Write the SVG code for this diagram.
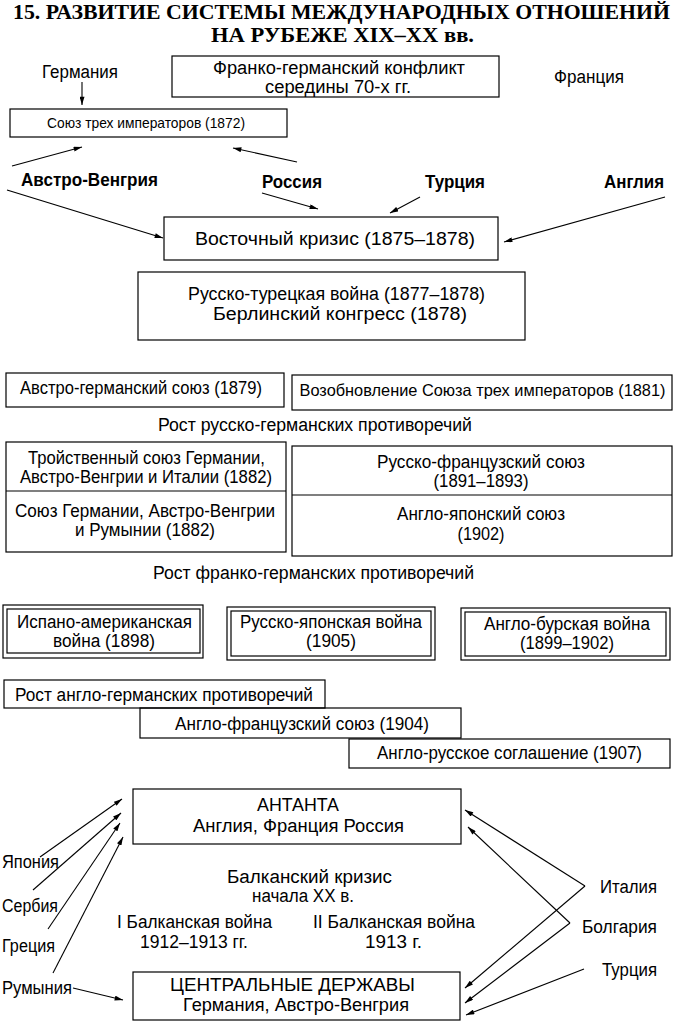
<svg xmlns="http://www.w3.org/2000/svg" width="677" height="1024" viewBox="0 0 677 1024">
<defs>
<marker id="ah" viewBox="0 0 10 6" refX="10" refY="3" markerWidth="9" markerHeight="5" markerUnits="userSpaceOnUse" orient="auto">
<path d="M0,0 L10,3 L0,6 Z" fill="#000"/>
</marker>
<style>
.t{font-family:"Liberation Sans",Arial,sans-serif;font-size:18px;fill:#000;text-anchor:middle}
.s{font-size:15px}
.m{font-size:16.5px}
.b{font-weight:bold}
.l{text-anchor:start}
.ttl{font-family:"Liberation Serif","Times New Roman",serif;font-weight:bold;font-size:22px;fill:#000}
.box{fill:none;stroke:#000;stroke-width:1.2}
.c line{stroke:#000;stroke-width:1.1;marker-end:url(#ah)}
</style>
</defs>
<rect width="677" height="1024" fill="#fff"/>

<g id="title">
<text class="ttl" x="13" y="19" textLength="657" lengthAdjust="spacingAndGlyphs">15. РАЗВИТИЕ СИСТЕМЫ МЕЖДУНАРОДНЫХ ОТНОШЕНИЙ</text>
<text class="ttl" x="211" y="42" textLength="263" lengthAdjust="spacingAndGlyphs">НА РУБЕЖЕ XIX–XX вв.</text>
</g>

<g id="germany1"><text class="t" x="80" y="78" textLength="76" lengthAdjust="spacingAndGlyphs">Германия</text></g>
<g id="franco-german">
<rect class="box" x="172" y="56" width="327" height="41"/>
<text class="t" x="339" y="74" textLength="252" lengthAdjust="spacingAndGlyphs">Франко-германский конфликт</text>
<text class="t" x="338" y="93" textLength="146" lengthAdjust="spacingAndGlyphs">середины 70-х гг.</text>
</g>
<g id="france1"><text class="t" x="589" y="83" textLength="70" lengthAdjust="spacingAndGlyphs">Франция</text></g>
<g id="union3">
<rect class="box" x="10" y="109" width="277" height="28"/>
<text class="t s" x="146" y="128" textLength="198" lengthAdjust="spacingAndGlyphs">Союз трех императоров (1872)</text>
</g>
<g id="austria1"><text class="t b" x="89.5" y="186" textLength="137" lengthAdjust="spacingAndGlyphs">Австро-Венгрия</text></g>
<g id="russia1"><text class="t b" x="292" y="188" textLength="60" lengthAdjust="spacingAndGlyphs">Россия</text></g>
<g id="turkey1"><text class="t b" x="455" y="188" textLength="60" lengthAdjust="spacingAndGlyphs">Турция</text></g>
<g id="england1"><text class="t b" x="634" y="188" textLength="60" lengthAdjust="spacingAndGlyphs">Англия</text></g>
<g id="eastern">
<rect class="box" x="164" y="217" width="334" height="43"/>
<text class="t" x="335" y="245" textLength="280" lengthAdjust="spacingAndGlyphs">Восточный кризис (1875–1878)</text>
</g>
<g id="rusturk">
<rect class="box" x="138" y="272" width="387" height="68"/>
<text class="t" x="336.5" y="300" textLength="297" lengthAdjust="spacingAndGlyphs">Русско-турецкая война (1877–1878)</text>
<text class="t" x="340" y="320" textLength="254" lengthAdjust="spacingAndGlyphs">Берлинский конгресс (1878)</text>
</g>
<g id="ausgerm">
<rect class="box" x="6" y="373" width="278" height="34"/>
<text class="t" x="141" y="394" textLength="242" lengthAdjust="spacingAndGlyphs">Австро-германский союз (1879)</text>
</g>
<g id="renewal">
<rect class="box" x="292" y="375" width="380" height="35"/>
<text class="t m" x="482.5" y="396" textLength="366" lengthAdjust="spacingAndGlyphs">Возобновление Союза трех императоров (1881)</text>
</g>
<g id="rg-contr"><text class="t" x="315" y="431" textLength="314" lengthAdjust="spacingAndGlyphs">Рост русско-германских противоречий</text></g>
<g id="triple">
<rect class="box" x="6" y="442" width="280" height="110"/>
<line x1="6" y1="491" x2="286" y2="491" stroke="#000" stroke-width="1.2"/>
<text class="t" x="146.5" y="464" textLength="237" lengthAdjust="spacingAndGlyphs">Тройственный союз Германии,</text>
<text class="t" x="146" y="483" textLength="252" lengthAdjust="spacingAndGlyphs">Австро-Венгрии и Италии (1882)</text>
<text class="t" x="145" y="517" textLength="260" lengthAdjust="spacingAndGlyphs">Союз Германии, Австро-Венгрии</text>
<text class="t" x="145" y="536" textLength="140" lengthAdjust="spacingAndGlyphs">и Румынии (1882)</text>
</g>
<g id="rusfr">
<rect class="box" x="292" y="446" width="380" height="110"/>
<line x1="292" y1="495" x2="672" y2="495" stroke="#000" stroke-width="1.2"/>
<text class="t" x="481" y="468" textLength="208" lengthAdjust="spacingAndGlyphs">Русско-французский союз</text>
<text class="t" x="481" y="487" textLength="95" lengthAdjust="spacingAndGlyphs">(1891–1893)</text>
<text class="t" x="481" y="520" textLength="168" lengthAdjust="spacingAndGlyphs">Англо-японский союз</text>
<text class="t" x="481" y="540" textLength="47" lengthAdjust="spacingAndGlyphs">(1902)</text>
</g>
<g id="fg-contr"><text class="t" x="313.5" y="579" textLength="321" lengthAdjust="spacingAndGlyphs">Рост франко-германских противоречий</text></g>
<g id="spam">
<rect class="box" x="3" y="605" width="200" height="53"/>
<rect class="box" x="7" y="609" width="193" height="44"/>
<text class="t" x="104.5" y="628" textLength="175" lengthAdjust="spacingAndGlyphs">Испано-американская</text>
<text class="t" x="104" y="647" textLength="102" lengthAdjust="spacingAndGlyphs">война (1898)</text>
</g>
<g id="rusjap">
<rect class="box" x="227" y="607" width="208" height="53"/>
<rect class="box" x="231" y="611" width="200" height="45"/>
<text class="t" x="331" y="628" textLength="182" lengthAdjust="spacingAndGlyphs">Русско-японская война</text>
<text class="t" x="331" y="647" textLength="50" lengthAdjust="spacingAndGlyphs">(1905)</text>
</g>
<g id="boer">
<rect class="box" x="461" y="608" width="209" height="52"/>
<rect class="box" x="465" y="612" width="201" height="44"/>
<text class="t" x="567" y="630" textLength="166" lengthAdjust="spacingAndGlyphs">Англо-бурская война</text>
<text class="t" x="567" y="649" textLength="94" lengthAdjust="spacingAndGlyphs">(1899–1902)</text>
</g>
<g id="ag-contr">
<rect class="box" x="4" y="680" width="321" height="28"/>
<text class="t" x="164" y="701" textLength="298" lengthAdjust="spacingAndGlyphs">Рост англо-германских противоречий</text>
</g>
<g id="anglofr">
<rect class="box" x="140" y="708" width="321" height="30"/>
<text class="t" x="302" y="730" textLength="254" lengthAdjust="spacingAndGlyphs">Англо-французский союз (1904)</text>
</g>
<g id="anglorus">
<rect class="box" x="349" y="739" width="321" height="29"/>
<text class="t" x="509.5" y="759" textLength="265" lengthAdjust="spacingAndGlyphs">Англо-русское соглашение (1907)</text>
</g>
<g id="entente">
<rect class="box" x="133" y="789" width="328" height="55"/>
<text class="t" x="298" y="811" textLength="82" lengthAdjust="spacingAndGlyphs">АНТАНТА</text>
<text class="t" x="298.5" y="832" textLength="211" lengthAdjust="spacingAndGlyphs">Англия, Франция Россия</text>
</g>
<g id="balkan">
<text class="t" x="309.5" y="883" textLength="165" lengthAdjust="spacingAndGlyphs">Балканский кризис</text>
<text class="t" x="303" y="902" textLength="102" lengthAdjust="spacingAndGlyphs">начала XX в.</text>
</g>
<g id="balkan1">
<text class="t" x="194.5" y="928" textLength="155" lengthAdjust="spacingAndGlyphs">I Балканская война</text>
<text class="t" x="194" y="948" textLength="108" lengthAdjust="spacingAndGlyphs">1912–1913 гг.</text>
</g>
<g id="balkan2">
<text class="t" x="394" y="928" textLength="162" lengthAdjust="spacingAndGlyphs">II Балканская война</text>
<text class="t" x="393.5" y="948" textLength="57" lengthAdjust="spacingAndGlyphs">1913 г.</text>
</g>
<g id="central">
<rect class="box" x="133" y="972" width="327" height="48"/>
<text class="t" x="292.5" y="991" textLength="245" lengthAdjust="spacingAndGlyphs">ЦЕНТРАЛЬНЫЕ ДЕРЖАВЫ</text>
<text class="t" x="296" y="1011" textLength="226" lengthAdjust="spacingAndGlyphs">Германия, Австро-Венгрия</text>
</g>
<g id="japan"><text class="t l" x="2" y="868" textLength="57" lengthAdjust="spacingAndGlyphs">Япония</text></g>
<g id="serbia"><text class="t l" x="2" y="912" textLength="56" lengthAdjust="spacingAndGlyphs">Сербия</text></g>
<g id="greece"><text class="t l" x="2" y="952" textLength="53" lengthAdjust="spacingAndGlyphs">Греция</text></g>
<g id="romania"><text class="t l" x="2" y="994" textLength="70" lengthAdjust="spacingAndGlyphs">Румыния</text></g>
<g id="italy"><text class="t l" x="600" y="893" textLength="57" lengthAdjust="spacingAndGlyphs">Италия</text></g>
<g id="bulgaria"><text class="t l" x="582" y="933" textLength="75" lengthAdjust="spacingAndGlyphs">Болгария</text></g>
<g id="turkey2"><text class="t l" x="602" y="976" textLength="55" lengthAdjust="spacingAndGlyphs">Турция</text></g>

<g id="connectors" class="c">
<line x1="82" y1="82" x2="82" y2="105"/>
<line x1="12" y1="166" x2="82" y2="147"/>
<line x1="297" y1="162" x2="233" y2="148"/>
<line x1="7" y1="190" x2="163" y2="238"/>
<line x1="262" y1="193" x2="318" y2="209"/>
<line x1="420" y1="197" x2="390" y2="213"/>
<line x1="665" y1="197" x2="504" y2="242"/>
<line x1="40" y1="857" x2="122" y2="799"/>
<line x1="33" y1="890" x2="121" y2="813"/>
<line x1="48" y1="929" x2="120" y2="823"/>
<line x1="53" y1="973" x2="123" y2="837"/>
<line x1="73" y1="988" x2="123" y2="1000"/>
<line x1="585" y1="886" x2="465" y2="810"/>
<line x1="585" y1="886" x2="465" y2="988"/>
<line x1="570" y1="923" x2="468" y2="827"/>
<line x1="570" y1="923" x2="465" y2="1003"/>
<line x1="584" y1="969" x2="466" y2="1015"/>
</g>
</svg>
